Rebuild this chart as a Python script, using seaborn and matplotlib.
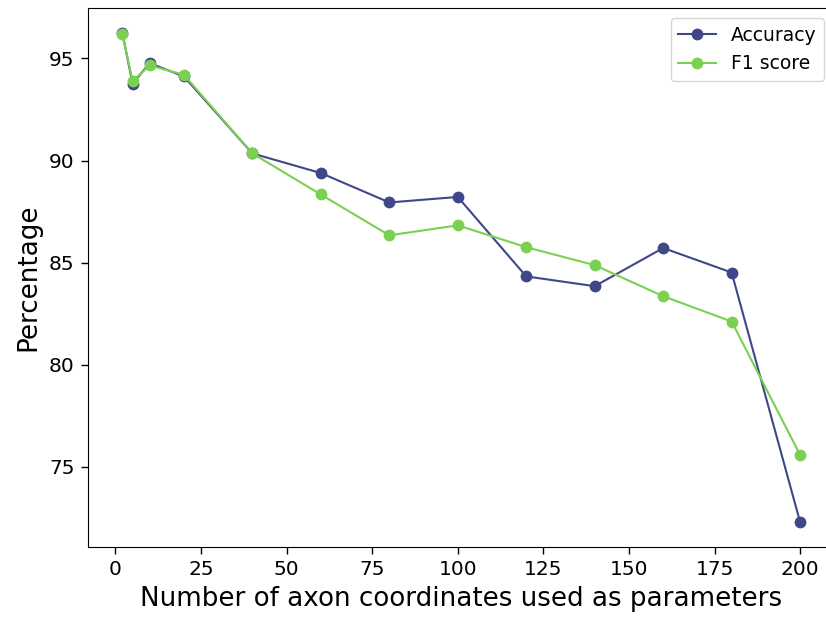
import matplotlib
matplotlib.use("Agg")
import matplotlib.pyplot as plt
import seaborn as sns
import pandas as pd

x_values = [2, 5, 10, 20, 40, 60, 80, 100, 120, 140, 160, 180, 200]
accuracy = [96.27, 93.77, 94.77, 94.12, 90.35, 89.39, 87.95, 88.22, 84.33, 83.85, 85.72, 84.52, 72.30]
f1_score = [96.21, 93.89, 94.66, 94.20, 90.35, 88.34, 86.34, 86.83, 85.76, 84.88, 83.36, 82.12, 75.59]
series_names = ["Accuracy", "F1 score"]
colors = ["#404788", "#7AD151"]

df = pd.DataFrame({
    "x": x_values * 2,
    "value": accuracy + f1_score,
    "metric": [series_names[0]] * len(x_values) + [series_names[1]] * len(x_values),
})

fig, ax = plt.subplots(figsize=(8.26, 6.19), dpi=100)
sns.lineplot(data=df, x="x", y="value", hue="metric", palette=colors,
             marker="o", markersize=8.5, markeredgewidth=0, linewidth=1.5, ax=ax)

ax.set_xlabel("Number of axon coordinates used as parameters", fontsize=18.8, labelpad=5)
ax.set_ylabel("Percentage", fontsize=18.8, labelpad=5)
ax.tick_params(axis="both", labelsize=14.5, length=5, pad=5, width=1)
ax.set_xticks([0, 25, 50, 75, 100, 125, 150, 175, 200])
ax.set_yticks([75, 80, 85, 90, 95])

handles, labels = ax.get_legend_handles_labels()
ax.legend(handles, labels, loc="upper right", fontsize=13.5, title=None,
          borderaxespad=0.55)

fig.subplots_adjust(left=0.107, right=1.0097, top=0.987, bottom=0.117)
fig.savefig("out.png", dpi=100)
